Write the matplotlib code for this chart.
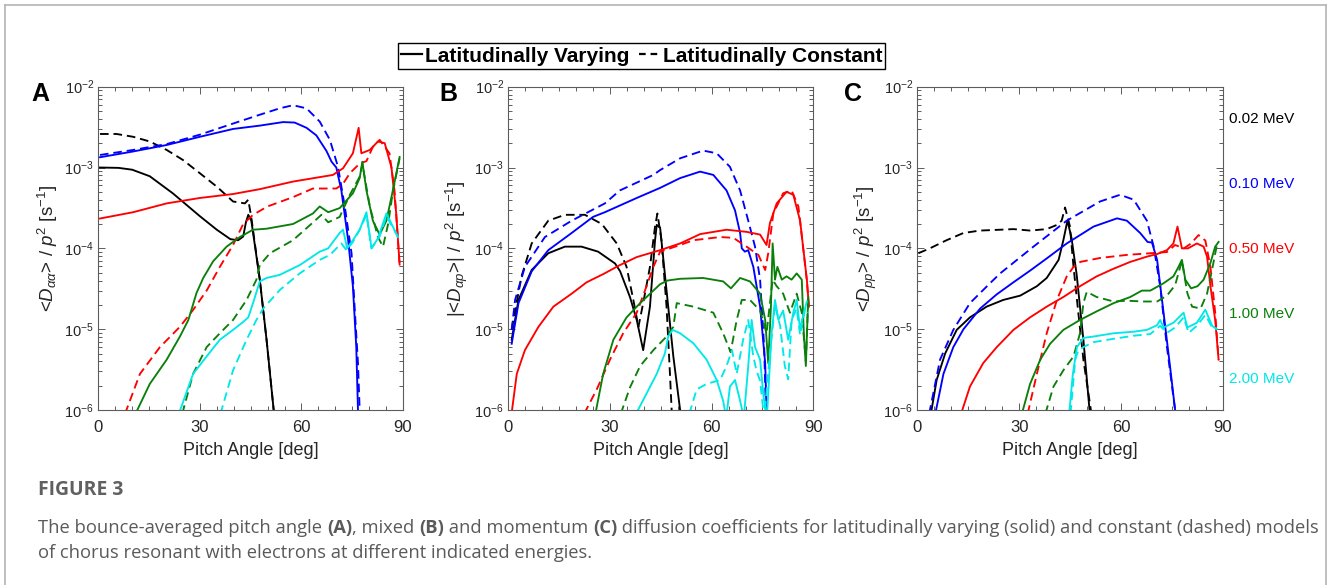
import matplotlib
matplotlib.use('Agg')
import matplotlib.pyplot as plt
from matplotlib.lines import Line2D
from matplotlib.ticker import LogLocator, MultipleLocator, NullFormatter, FixedLocator

plt.rcParams['font.family'] = ['Liberation Sans', 'DejaVu Sans']
plt.rcParams['mathtext.fontset'] = 'custom'
plt.rcParams['mathtext.rm'] = 'Liberation Sans'
plt.rcParams['mathtext.it'] = 'Liberation Sans:italic'
plt.rcParams['mathtext.bf'] = 'Liberation Sans:bold'

# ---------------- data (pitch angle [deg], coefficient [s^-1]) ----------------
energies = ['0.02 MeV', '0.10 MeV', '0.50 MeV', '1.00 MeV', '2.00 MeV']
colors = ['#000000', '#0000ff', '#ff0000', '#0a800a', '#00e8e8']
legend_labels = ['Latitudinally Varying', 'Latitudinally Constant']
panel_letters = ['A', 'B', 'C']
ylabels = [r'<$D_{\alpha\alpha}$> / $p^2$ [s$^{-1}$]',
           r'|<$D_{\alpha p}$>| / $p^2$ [s$^{-1}$]',
           r'<$D_{pp}$> / $p^2$ [s$^{-1}$]']
xticks = [0, 30, 60, 90]

# Panel A : <Daa>
a_k002_var_x = [0.5, 6, 10, 15.2, 22, 30, 35, 39, 41.3, 42.8, 43.6, 44.3, 45.2, 47.7, 49.7, 51.8, 52.5]
a_k002_var_y = [1.0e-3, 9.9e-4, 9.4e-4, 7.8e-4, 4.8e-4, 2.5e-4, 1.7e-4, 1.3e-4, 1.26e-4, 1.4e-4, 2.1e-4, 2.6e-4, 2.2e-4, 4.1e-5, 7.4e-6, 1.0e-6, 6e-7]
a_k002_con_x = [0.5, 5.4, 10.3, 15.2, 20.2, 25, 30, 35, 39.8, 43.3, 44.3, 45.2, 47.7, 49.7, 51.8, 52.5]
a_k002_con_y = [2.6e-3, 2.6e-3, 2.4e-3, 2.1e-3, 1.65e-3, 1.24e-3, 8.5e-4, 5.8e-4, 3.8e-4, 3.6e-4, 4.0e-4, 2.4e-4, 4.1e-5, 7.4e-6, 1.0e-6, 6e-7]
a_k010_var_x = [0.5, 10.3, 20.2, 30, 39.8, 47.7, 54.6, 58, 61.5, 64.4, 67.4, 68.9, 70.3, 71.8, 73.8, 75.2, 76.2, 76.7, 77]
a_k010_var_y = [1.34e-3, 1.58e-3, 1.9e-3, 2.4e-3, 3.0e-3, 3.3e-3, 3.65e-3, 3.6e-3, 3.1e-3, 2.5e-3, 1.6e-3, 1.18e-3, 1.0e-3, 5.2e-4, 1.26e-4, 3.4e-5, 6e-6, 1e-6, 6e-7]
a_k010_con_x = [0.5, 10.3, 20.2, 30, 39.8, 47.7, 53.6, 57.5, 61.5, 65.4, 68.4, 70.8, 72.8, 74.8, 75.7, 76.7, 77.2, 77.5]
a_k010_con_y = [1.43e-3, 1.65e-3, 1.95e-3, 2.55e-3, 3.5e-3, 4.5e-3, 5.4e-3, 5.9e-3, 5.4e-3, 3.7e-3, 2.2e-3, 1.02e-3, 3.3e-4, 8.7e-5, 1.9e-5, 3.8e-6, 1e-6, 6e-7]
a_k050_var_x = [0.5, 10.3, 20.2, 30, 39.8, 47.7, 57.5, 69.3, 72.3, 75.2, 76.9, 77.7, 80.2, 82.6, 84.6, 86.6, 88, 89]
a_k050_var_y = [2.34e-4, 2.8e-4, 3.6e-4, 4.2e-4, 4.7e-4, 5.4e-4, 6.7e-4, 8.1e-4, 9.8e-4, 1.5e-3, 3.1e-3, 1.5e-3, 1.65e-3, 2.1e-3, 2.0e-3, 1.0e-3, 2.7e-4, 6.3e-5]
a_k050_con_x = [7.9, 12.3, 18.2, 24.1, 28, 32, 35.9, 39.8, 42.8, 45.7, 50, 57.5, 63.4, 70.3, 72.3, 74.3, 77.2, 79.2, 81.1, 83.1, 86, 87.5, 89]
a_k050_con_y = [9e-7, 2.8e-6, 6.0e-6, 1.07e-5, 1.73e-5, 3.0e-5, 5.9e-5, 1.1e-4, 2.0e-4, 2.6e-4, 3.3e-4, 4.3e-4, 5.5e-4, 5.5e-4, 6.3e-4, 8.5e-4, 1.12e-3, 1.2e-3, 1.8e-3, 2.2e-3, 1.5e-3, 5.2e-4, 6.3e-5]
a_k100_var_x = [11.0, 15.2, 20.2, 24.1, 26.6, 27.5, 29, 31, 33.9, 37.9, 41.8, 45.7, 49.7, 57.5, 63.4, 65.4, 67.9, 71.3, 75.2, 77.2, 78, 79.2, 81.1, 83.1, 85.1, 87, 89]
a_k100_var_y = [9e-7, 2.1e-6, 4.2e-6, 8.1e-6, 1.3e-5, 1.73e-5, 2.8e-5, 4.3e-5, 6.9e-5, 1.05e-4, 1.38e-4, 1.7e-4, 1.75e-4, 2.0e-4, 2.7e-4, 3.3e-4, 2.8e-4, 3.15e-4, 4.8e-4, 7.4e-4, 1.18e-3, 5.2e-4, 2.2e-4, 1.48e-4, 2.2e-4, 5.2e-4, 1.35e-3]
a_k100_con_x = [24.8, 28, 32, 35.9, 39.8, 43.8, 46.7, 47.7, 50.7, 57.5, 64, 65.9, 67.9, 71.3, 74.3, 77.2, 78, 80.2, 82.6, 84.1, 85.6, 87, 89]
a_k100_con_y = [9e-7, 2.8e-6, 6.0e-6, 8.9e-6, 1.3e-5, 2.3e-5, 4.1e-5, 6.2e-5, 8.7e-5, 1.26e-4, 2.2e-4, 2.6e-4, 2.1e-4, 2.45e-4, 4.6e-4, 7.7e-4, 1.1e-3, 3.3e-4, 1.38e-4, 1.05e-4, 2.0e-4, 5e-4, 1.3e-3]
a_k200_var_x = [23.8, 28, 32, 35.9, 39.8, 42.8, 44.3, 45.7, 47.7, 49.7, 53.6, 59.5, 65.4, 67.9, 71.3, 72.3, 73.5, 75.2, 77.2, 79.2, 80.7, 82.6, 85.1, 87, 88.5]
a_k200_var_y = [9e-7, 2.8e-6, 4.6e-6, 7.4e-6, 9.8e-6, 1.23e-5, 1.4e-5, 2.1e-5, 3.9e-5, 4.3e-5, 4.7e-5, 6.2e-5, 9.1e-5, 1.0e-4, 1.55e-4, 1.7e-4, 1.0e-4, 1.26e-4, 1.7e-4, 2.8e-4, 1.0e-4, 1.33e-4, 2.7e-4, 1.86e-4, 1.38e-4]
a_k200_con_x = [36.1, 39.8, 43.8, 46.7, 48.7, 53.6, 59.5, 65.4, 68.4, 71.8, 73.3, 75.2, 77.2, 79.2, 80.7, 83.1, 85.1, 87, 88.5]
a_k200_con_y = [9e-7, 3.1e-6, 7.4e-6, 1.3e-5, 1.8e-5, 3.05e-5, 4.9e-5, 7.2e-5, 8.3e-5, 1.15e-4, 9.5e-5, 1.2e-4, 1.7e-4, 2.6e-4, 1.0e-4, 1.4e-4, 2.5e-4, 1.8e-4, 1.4e-4]

# Panel B : |<Dap>|
b_k002_var_x = [1, 3, 6.9, 11.8, 16.7, 21.6, 26.5, 31.5, 33, 35.9, 37.9, 39.8, 41.8, 43.3, 43.8, 44.8, 46.7, 48.7, 50.7, 51]
b_k002_var_y = [7.4e-6, 2.3e-5, 5.4e-5, 8.7e-5, 1.05e-4, 1.05e-4, 9.1e-5, 6.5e-5, 5.2e-5, 2.5e-5, 1.3e-5, 5.5e-6, 1.9e-5, 1.26e-4, 1.95e-4, 1.8e-4, 3.0e-5, 4.6e-6, 1e-6, 7e-7]
b_k002_con_x = [1.0, 1.5, 3.9, 6.9, 11.8, 16.7, 22.6, 27.6, 32, 34.9, 36.9, 38.4, 39.8, 41.8, 43.3, 44, 45.2, 46.7, 47.7, 48.2, 48.5]
b_k002_con_y = [1.0e-5, 1.3e-5, 4.5e-5, 1.15e-4, 2.2e-4, 2.6e-4, 2.6e-4, 2.0e-4, 1.15e-4, 5.9e-5, 2.3e-5, 1.07e-5, 2.1e-5, 5.9e-5, 1.86e-4, 2.7e-4, 1.26e-4, 1.9e-5, 2.8e-6, 1e-6, 7e-7]
b_k010_var_x = [1, 3, 6.9, 11.8, 18.7, 25, 28.5, 37.9, 44.8, 50.7, 56.6, 60.5, 64.4, 66.9, 68.4, 68.9, 69.8, 70.8, 72.3, 74.3, 75.8, 76.2, 76.5]
b_k010_var_y = [6.6e-6, 2.1e-5, 5.2e-5, 9.5e-5, 1.55e-4, 2.45e-4, 2.8e-4, 4.2e-4, 5.6e-4, 7.4e-4, 8.9e-4, 8.1e-4, 5.2e-4, 2.95e-4, 1.55e-4, 1.0e-4, 9.1e-5, 9.5e-5, 5.9e-5, 1.9e-5, 3.8e-6, 1e-6, 7e-7]
b_k010_con_x = [1, 2, 4.9, 10.8, 18.7, 28.5, 32.9, 42.8, 44.8, 50.7, 57.5, 61.5, 65.4, 68.4, 70.8, 72.8, 74.3, 75.5, 76, 76.3]
b_k010_con_y = [9.8e-6, 2.3e-5, 5.9e-5, 1.38e-4, 2.2e-4, 3.6e-4, 5.2e-4, 8.1e-4, 9.3e-4, 1.3e-3, 1.62e-3, 1.5e-3, 1.02e-3, 5.2e-4, 2.2e-4, 1.05e-4, 4.1e-5, 6e-6, 1e-6, 7e-7]
b_k050_var_x = [0.8, 2.5, 4.9, 8.9, 13.3, 18.7, 23.1, 28, 32.9, 37.9, 44.8, 50.7, 56.6, 64.4, 70.3, 74.3, 76.2, 77.2, 79.2, 82.1, 84.1, 86.1, 88.1, 88.7]
b_k050_var_y = [8e-7, 2.8e-6, 5.5e-6, 1.07e-5, 1.9e-5, 2.75e-5, 3.8e-5, 4.8e-5, 6.2e-5, 7.8e-5, 9.5e-5, 1.15e-4, 1.5e-4, 1.7e-4, 1.6e-4, 1.48e-4, 1.1e-4, 2.05e-4, 3.6e-4, 5.0e-4, 4.6e-4, 2.2e-4, 4.1e-5, 1.9e-5]
b_k050_con_x = [22.4, 26.1, 30, 33.9, 37.9, 40.8, 42.8, 44.8, 50.7, 54.6, 62.5, 66.4, 70.3, 73.8, 75.8, 76.7, 78.2, 81.1, 83.6, 85.6, 88.1, 88.7]
b_k050_con_y = [9e-7, 1.8e-6, 4.2e-6, 8.9e-6, 1.6e-5, 3.4e-5, 5.9e-5, 9.1e-5, 1.1e-4, 1.26e-4, 1.38e-4, 1.35e-4, 1.05e-4, 8.3e-5, 5.4e-5, 8.7e-5, 2.7e-4, 4.8e-4, 5.2e-4, 3.3e-4, 4e-5, 1.9e-5]
b_k100_var_x = [25.7, 28, 31, 34.9, 38.9, 42.8, 44.8, 47, 50.7, 57.5, 63.4, 65.7, 68.4, 71.3, 74.3, 75.8, 76.7, 77.5, 78, 78.7, 79.4, 80.7, 82.1, 83.6, 85.1, 86.6, 87.2, 87.8, 88.5]
b_k100_var_y = [9e-7, 2.8e-6, 7.4e-6, 1.4e-5, 2.1e-5, 3.0e-5, 3.6e-5, 4.0e-5, 4.2e-5, 4.3e-5, 3.9e-5, 3.2e-5, 4.3e-5, 3.9e-5, 2.75e-5, 1.3e-5, 3.8e-6, 1.9e-5, 1.15e-4, 4.1e-5, 5.9e-5, 4.1e-5, 4.5e-5, 4.1e-5, 4.9e-5, 4.1e-5, 8.9e-6, 3.5e-6, 2.5e-5]
b_k100_con_x = [33.2, 35.9, 38.9, 42.8, 46.7, 48.7, 49.7, 54.6, 60.5, 63.4, 65.6, 67.4, 68.9, 71.3, 74.3, 76.2, 78, 79.2, 81.1, 83.1, 85.1, 86.6, 87.8, 88.5]
b_k100_con_y = [9e-7, 1.9e-6, 3.5e-6, 5.5e-6, 8.1e-6, 1.07e-5, 2.1e-5, 1.9e-5, 1.6e-5, 8.9e-6, 5.2e-6, 1.3e-5, 2.3e-5, 2.3e-5, 1.7e-5, 8.9e-6, 4.1e-5, 3.4e-5, 2.75e-5, 1.6e-5, 2.75e-5, 1.6e-5, 4e-6, 2.3e-5]
b_k200_var_x = [37.7, 40.8, 43.8, 46.2, 47.2, 48.5, 50.7, 54.6, 58.5, 61.5, 63.4, 64.3, 65.4, 66.9, 68.4, 69.5, 70.8, 71.8, 72.8, 74.3, 75.3, 76.3, 77.7, 78.7, 79.7, 81.1, 82.6, 84.1, 85.1, 86.1, 87.2, 88.1]
b_k200_var_y = [9e-7, 1.6e-6, 2.8e-6, 5.0e-6, 8.1e-6, 9.8e-6, 8.9e-6, 6.7e-6, 4.2e-6, 2.35e-6, 1.3e-6, 8e-7, 1.95e-6, 2.35e-6, 1.3e-6, 8e-7, 3.5e-6, 1.3e-5, 6.0e-6, 4.2e-6, 1.5e-6, 8e-7, 8.9e-6, 2.3e-5, 1.3e-5, 1.7e-5, 7.4e-6, 1.6e-5, 2.3e-5, 1.0e-5, 1.6e-5, 2.2e-5]
b_k200_con_x = [53.4, 55.6, 58.5, 62.5, 64.4, 66, 67.4, 69.3, 70.8, 72.3, 73.3, 74.3, 75.5, 77.2, 78.7, 80.2, 81.6, 82.6, 83.6, 85.1, 86.1, 87.6, 88.5]
b_k200_con_y = [9e-7, 1.8e-6, 2.1e-6, 2.35e-6, 3.5e-6, 5.5e-6, 2.8e-6, 7.4e-6, 1.3e-5, 4.6e-6, 3e-6, 2.3e-6, 8e-7, 5e-6, 2e-5, 1.1e-5, 3.5e-6, 2.4e-6, 1.3e-5, 1.8e-5, 8.5e-6, 1.8e-5, 1.6e-5]

# Panel C : <Dpp>
c_k002_var_x = [4.0, 5.7, 8.2, 11.6, 15.5, 20.4, 25.3, 30.3, 35.2, 38.1, 41.6, 43, 44.2, 45.4, 46.9, 48.9, 50.7, 51]
c_k002_var_y = [9e-7, 2.35e-6, 5.0e-6, 9.8e-6, 1.4e-5, 1.9e-5, 2.3e-5, 2.6e-5, 3.4e-5, 4.3e-5, 7.2e-5, 1.26e-4, 2.2e-4, 1.35e-4, 4.8e-5, 7.4e-6, 1e-6, 7e-7]
c_k002_con_x = [0.3, 3.7, 8.6, 13.6, 18.5, 24.4, 28.3, 33.2, 38.1, 41.1, 42.5, 43.5, 44.9, 46, 47.4, 48.9, 51.1, 51.5]
c_k002_con_y = [8.7e-5, 1.0e-4, 1.26e-4, 1.55e-4, 1.66e-4, 1.7e-4, 1.73e-4, 1.66e-4, 1.73e-4, 1.95e-4, 2.2e-4, 3.2e-4, 1.9e-4, 5.9e-5, 1.6e-5, 4.2e-6, 1e-6, 7e-7]
c_k010_var_x = [5.3, 7.7, 10.6, 13.6, 18.5, 23.4, 28.3, 33.2, 38.1, 44, 51.9, 58.8, 61.7, 65.6, 67.8, 69.1, 70.6, 72.5, 74.5, 75.9, 76.2]
c_k010_var_y = [9e-7, 2.8e-6, 6.0e-6, 1.0e-5, 1.8e-5, 2.7e-5, 3.8e-5, 5.3e-5, 7.5e-5, 1.15e-4, 1.86e-4, 2.35e-4, 2.2e-4, 1.55e-4, 1.2e-4, 1.18e-4, 7.2e-5, 1.6e-5, 3.2e-6, 1e-6, 7e-7]
c_k010_con_x = [3.5, 6.7, 10.6, 15.5, 21.4, 24.4, 34.2, 44, 53.8, 59.7, 63.7, 67.6, 69.6, 71.5, 73.5, 75.9, 76.2]
c_k010_con_y = [9e-7, 4.2e-6, 9.8e-6, 2.1e-5, 3.7e-5, 4.9e-5, 1.05e-4, 2.2e-4, 3.8e-4, 4.6e-4, 4.0e-4, 2.2e-4, 1.05e-4, 3.4e-5, 6e-6, 1e-6, 7e-7]
c_k050_var_x = [12.9, 15.5, 19.4, 23.4, 28.3, 33.2, 38.1, 43, 47.9, 52.8, 57.8, 62.7, 67.6, 70.6, 73.5, 75.4, 76.6, 77.9, 79.7, 82.3, 84.3, 85.3, 86.3, 87.7, 88.7]
c_k050_var_y = [9e-7, 1.95e-6, 3.8e-6, 6.0e-6, 9.8e-6, 1.4e-5, 1.9e-5, 2.5e-5, 3.4e-5, 4.5e-5, 5.6e-5, 6.8e-5, 7.9e-5, 8.5e-5, 9.5e-5, 1.15e-4, 1.86e-4, 1.0e-4, 1.0e-4, 1.15e-4, 1.05e-4, 7.9e-5, 3.4e-5, 1.3e-5, 4.2e-6]
c_k050_con_x = [32.5, 35.2, 38.1, 41.1, 44, 46, 48, 53.8, 61.7, 68.6, 73.5, 75.9, 78.5, 80.6, 82.8, 84.8, 86.3, 87.7, 88.7]
c_k050_con_y = [9e-7, 2.8e-6, 8.9e-6, 2.3e-5, 4.5e-5, 5.9e-5, 6.8e-5, 7.6e-5, 8.3e-5, 8.7e-5, 9e-5, 1.1e-4, 1.0e-4, 1.15e-4, 1.46e-4, 1.25e-4, 5.9e-5, 1.6e-5, 4.2e-6]
c_k100_var_x = [30.8, 33.2, 36.2, 39.1, 43, 47.9, 52.8, 57.8, 62.7, 66.1, 68.6, 72.5, 75.4, 76.9, 77.9, 78.9, 80.6, 82.5, 84.3, 86.3, 87.7, 88.7]
c_k100_var_y = [9e-7, 2.1e-6, 4.2e-6, 6.6e-6, 9.8e-6, 1.3e-5, 1.66e-5, 2.1e-5, 2.5e-5, 3.0e-5, 3.0e-5, 3.7e-5, 4.5e-5, 5.9e-5, 7.2e-5, 4.1e-5, 3.2e-5, 3.4e-5, 4.1e-5, 6.6e-5, 1.05e-4, 1.2e-4]
c_k100_con_x = [37.7, 40.1, 43, 46, 47.9, 48.9, 49.9, 52.8, 57.8, 61.7, 66.6, 70.6, 73.5, 75.9, 77.9, 79.5, 80.9, 83.4, 85.3, 86.8, 88.2]
c_k100_con_y = [9e-7, 1.95e-6, 3.1e-6, 4.6e-6, 8.9e-6, 2.1e-5, 2.9e-5, 2.5e-5, 2.2e-5, 2.25e-5, 2.2e-5, 2.2e-5, 2.6e-5, 3.5e-5, 7e-5, 2.8e-5, 1.9e-5, 1.8e-5, 2.75e-5, 5.5e-5, 1.1e-4]
c_k200_var_x = [44.7, 45.8, 47, 48.9, 51.8, 57.8, 63.7, 67.6, 70.6, 71.5, 72.5, 75.4, 78.4, 79.5, 82.3, 84.8, 86.8, 88.2]
c_k200_var_y = [9e-7, 2.8e-6, 6e-6, 7.8e-6, 8.1e-6, 8.9e-6, 9.3e-6, 9.8e-6, 1.12e-5, 1.3e-5, 1.05e-5, 1.2e-5, 1.6e-5, 1.05e-5, 1.2e-5, 1.74e-5, 1.1e-5, 1.0e-5]
c_k200_con_x = [45.1, 46.5, 47.4, 48.9, 51.8, 57.8, 63.7, 68.6, 71.5, 73.5, 75.9, 78.4, 79.9, 82.3, 84.8, 86.8, 88.2]
c_k200_con_y = [9e-7, 4.2e-6, 5.5e-6, 6.0e-6, 6.9e-6, 7.6e-6, 8.3e-6, 8.7e-6, 1.1e-5, 9e-6, 1.05e-5, 1.4e-5, 9e-6, 1.1e-5, 1.5e-5, 1.05e-5, 1.0e-5]

caption_title = 'FIGURE 3'
caption_line1 = [('The bounce-averaged pitch angle ', 'normal'), ('(A)', 'bold'), (', mixed ', 'normal'),
                 ('(B)', 'bold'), (' and momentum ', 'normal'), ('(C)', 'bold'),
                 (' diffusion coefficients for latitudinally varying (solid) and constant (dashed) models', 'normal')]
caption_line2 = [('of chorus resonant with electrons at different indicated energies.', 'normal')]

panels = [
    [(a_k002_var_x, a_k002_var_y, a_k002_con_x, a_k002_con_y),
     (a_k010_var_x, a_k010_var_y, a_k010_con_x, a_k010_con_y),
     (a_k050_var_x, a_k050_var_y, a_k050_con_x, a_k050_con_y),
     (a_k100_var_x, a_k100_var_y, a_k100_con_x, a_k100_con_y),
     (a_k200_var_x, a_k200_var_y, a_k200_con_x, a_k200_con_y)],
    [(b_k002_var_x, b_k002_var_y, b_k002_con_x, b_k002_con_y),
     (b_k010_var_x, b_k010_var_y, b_k010_con_x, b_k010_con_y),
     (b_k050_var_x, b_k050_var_y, b_k050_con_x, b_k050_con_y),
     (b_k100_var_x, b_k100_var_y, b_k100_con_x, b_k100_con_y),
     (b_k200_var_x, b_k200_var_y, b_k200_con_x, b_k200_con_y)],
    [(c_k002_var_x, c_k002_var_y, c_k002_con_x, c_k002_con_y),
     (c_k010_var_x, c_k010_var_y, c_k010_con_x, c_k010_con_y),
     (c_k050_var_x, c_k050_var_y, c_k050_con_x, c_k050_con_y),
     (c_k100_var_x, c_k100_var_y, c_k100_con_x, c_k100_con_y),
     (c_k200_var_x, c_k200_var_y, c_k200_con_x, c_k200_con_y)],
]

# ---------------- layout ----------------
W, H = 1328, 585
fig = plt.figure(figsize=(W / 100, H / 100), dpi=100)
fig.patch.set_facecolor('white')

def px_rect(l, t, r, b):
    return [l / W, 1 - b / H, (r - l) / W, (b - t) / H]

ax_px = [(98.3, 86.7, 403.0, 410.0), (508.3, 86.7, 813.3, 410.0), (917.3, 86.7, 1223.0, 410.0)]
letter_px = [(40, 94), (448, 94), (853, 94)]
spine_col = '#5c5c5c'
tick_col = '#262626'
LW = 1.35
DASH = (0, (4.6, 2.6))

for i, (rect, curves) in enumerate(zip(ax_px, panels)):
    ax = fig.add_axes(px_rect(*rect))
    for (xv, yv, xc, yc), col in zip(curves, colors):
        ax.plot(xv, yv, color=col, lw=LW, solid_joinstyle='round')
        ax.plot(xc, yc, color=col, lw=LW, linestyle=DASH)
    ax.set_yscale('log')
    ax.set_xlim(0, 90)
    ax.set_ylim(1e-6, 1e-2)
    ax.xaxis.set_major_locator(FixedLocator(xticks))
    ax.xaxis.set_minor_locator(MultipleLocator(5))
    ax.yaxis.set_major_locator(LogLocator(base=10, numticks=10))
    ax.yaxis.set_minor_locator(LogLocator(base=10, subs=tuple(range(2, 10)), numticks=20))
    ax.yaxis.set_minor_formatter(NullFormatter())
    ax.tick_params(which='both', direction='in', top=True, right=True, colors=spine_col,
                   labelcolor=tick_col, width=0.7)
    ax.tick_params(axis='y', labelsize=10.5, pad=3)
    ax.tick_params(axis='x', labelsize=12, pad=7)
    ax.tick_params(which='major', length=5)
    ax.tick_params(which='minor', length=3)
    for sp in ax.spines.values():
        sp.set_color(spine_col)
        sp.set_linewidth(0.8)
    ax.set_xlabel('Pitch Angle [deg]', fontsize=13, color=tick_col, labelpad=5)
    ax.set_ylabel(ylabels[i], fontsize=13.5, color=tick_col, labelpad=3)
    lx, ly = letter_px[i]
    fig.text(lx / W, 1 - ly / H, panel_letters[i], fontsize=18, fontweight='bold',
             ha='center', va='center', color='black')

# energy labels at the right of panel C
energy_y_px = [119, 184, 249, 314, 379]
for lab, col, yp in zip(energies, colors, energy_y_px):
    fig.text(1229 / W, 1 - yp / H, lab, fontsize=11, color=col, ha='left', va='center')

# legend
handles = [Line2D([0], [0], color='black', lw=1.6),
           Line2D([0], [0], color='black', lw=1.6, linestyle=(0, (3.0, 2.2)))]
leg = fig.legend(handles, legend_labels, loc='center', bbox_to_anchor=(641.5 / W, 1 - 56 / H),
                 ncol=2, frameon=True, fancybox=False, edgecolor='black', framealpha=1,
                 prop={'family': 'Liberation Sans', 'weight': 'bold', 'size': 15},
                 handlelength=1.0, handletextpad=0.15, columnspacing=0.45, borderpad=0.15,
                 borderaxespad=0)
leg.get_frame().set_linewidth(1.0)

# outer frame (left, top, right)
fcol = '#b4b4b4'
fig.add_artist(Line2D([4.5 / W, 4.5 / W], [0, 1 - 4.5 / H], transform=fig.transFigure, color=fcol, lw=1.2))
fig.add_artist(Line2D([4.5 / W, 1325.5 / W], [1 - 4.5 / H, 1 - 4.5 / H], transform=fig.transFigure, color=fcol, lw=1.2))
fig.add_artist(Line2D([1325.5 / W, 1325.5 / W], [0, 1 - 4.5 / H], transform=fig.transFigure, color=fcol, lw=1.2))

# caption
renderer = fig.canvas.get_renderer()
cap_font = 'Open Sans'
cap_col = '#5a5a5a'

def run_width(s, w, size):
    t1 = fig.text(0, 0, '|' + s + '|', fontsize=size, fontweight=w, family=cap_font)
    t2 = fig.text(0, 0, '||', fontsize=size, fontweight=w, family=cap_font)
    wd = t1.get_window_extent(renderer).width - t2.get_window_extent(renderer).width
    t1.remove(); t2.remove()
    return wd

def draw_runs(x0, y, runs, size):
    x = x0
    for s, w in runs:
        fig.text(x / W, 1 - y / H, s, fontsize=size, fontweight=w, family=cap_font,
                 color=cap_col, ha='left', va='center')
        x += run_width(s, w, size)

base = 12.0
w1 = sum(run_width(s, w, base) for s, w in caption_line1)
cap_size = base * 1276.0 / w1
fig.text(38 / W, 1 - 490 / H, caption_title, fontsize=cap_size * 1.05, fontweight='bold',
         family=cap_font, color='#606060', ha='left', va='center')
draw_runs(38, 528, caption_line1, cap_size)
draw_runs(38, 553, caption_line2, cap_size)

fig.savefig('out.png', dpi=100, facecolor='white')
